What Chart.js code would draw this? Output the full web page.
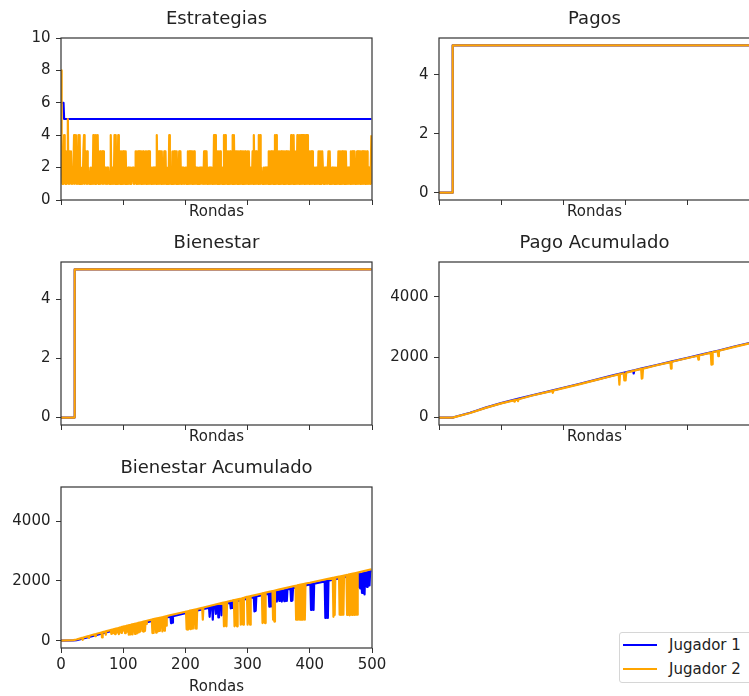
<!DOCTYPE html>
<html>
<head>
<meta charset="utf-8">
<script src="https://cdn.jsdelivr.net/npm/chart.js@4.4.1/dist/chart.umd.min.js"></script>
<style>
  html, body { margin: 0; padding: 0; background: #fff; overflow: hidden; }
  body { width: 749px; height: 696px; position: relative; font-family: "DejaVu Sans", sans-serif; }
  canvas { position: absolute; }
  #leyenda { position: absolute; left: 619px; top: 632px; width: 150px; height: 49px;
             border: 1px solid #d6d6d6; border-radius: 3px; background: #fff; color: #222; font-size: 15px; }
  #leyenda .linea { position: absolute; left: 3px; width: 34px; height: 2px; }
  #leyenda .texto { position: absolute; left: 49px; line-height: 18px; white-space: nowrap; }
</style>
</head>
<body>
<canvas id="estrategias" width="391" height="212" style="left:1px;top:9px"></canvas>
<canvas id="pagos" width="391" height="212" style="left:379px;top:9px"></canvas>
<canvas id="bienestar" width="391" height="213" style="left:1px;top:233px"></canvas>
<canvas id="pagoAcum" width="391" height="213" style="left:379px;top:233px"></canvas>
<canvas id="bienestarAcum" width="391" height="238" style="left:1px;top:458px"></canvas>
<div id="leyenda">
  <div class="linea" style="top:11px;background:#0000ff"></div>
  <div class="texto" style="top:3px">Jugador 1</div>
  <div class="linea" style="top:35px;background:#ffa500"></div>
  <div class="texto" style="top:27px">Jugador 2</div>
</div>
<script>
// marcas de los ejes
const rondasTicks = [0, 100, 200, 300, 400, 500];
const estrategiaTicks = [0, 2, 4, 6, 8, 10];
const pagoTicks = [0, 2, 4];
const acumTicks = [0, 2000, 4000];

// estrategia elegida en cada ronda: [valor, rondas seguidas]
const estrategiaJ1 = [[6, 5], [5, 495]];
// jugador 2, un dígito por ronda (bloques de 10 rondas)
const estrategiaJ2 = [
  "8413142131", "2513123121", "2412413141", "4121213412", "3131221121",
  "2141214124", "1313123131", "2211212211", "4121214141", "2141313131",
  "3131312121", "2121122112", "3131313131", "3131213131", "3131212121",
  "2121413131", "3131213131", "2121413121", "3131313121", "3131221211",
  "2121313131", "3131312121", "2112212211", "3131312121", "2121214141",
  "3131313121", "2141413131", "3131214141", "3131313131", "3131313121",
  "3131212131", "4131312141", "4122112121", "2121313131", "3131414131",
  "3131313131", "3131313131", "4131413131", "4131414141", "4141414131",
  "3131312121", "2121313131", "3311221211", "3131212121", "2121213131",
  "3131313131", "2121213131", "3131213131", "3131313131", "3131212124"
];

// pagos y bienestar por ronda: [valor, rondas seguidas]
const pagoJ1 = [[0, 22], [5, 478]];
const pagoJ2 = [[0, 22], [5, 478]];
const bienestarJ1 = [[0, 22], [5, 478]];
const bienestarJ2 = [[0, 22], [5, 478]];

// acumulados: [ronda, valor]
const pagoAcumJ1 = [
  [0,0],[22,0],[25,20],[50,160],[60,225],[75,330],[100,480],[125,610],[150,740],[175,860],
  [200,985],[225,1110],[250,1240],[275,1370],[300,1500],[312,1555],[313,1460],[314,1565],
  [325,1620],[350,1740],[375,1860],[400,1980],[425,2100],[450,2220],[475,2350],[499,2465]
];
const pagoAcumJ2 = [
  [0,0],[22,0],[25,15],[50,150],[75,320],[100,470],[120,570],[121,530],[122,577],[126,598],
  [127,545],[128,605],[150,730],[175,850],[182,885],[183,820],[184,895],[200,975],[225,1100],
  [250,1230],[275,1360],[289,1430],[290,1090],[291,1440],[297,1465],[298,1230],[300,1230],
  [301,1485],[325,1610],[326,1290],[327,1300],[328,1620],[350,1730],[372,1835],[373,1620],
  [374,1845],[400,1970],[416,2045],[417,1920],[418,2055],[437,2150],[438,1750],[439,1760],
  [440,2165],[448,2200],[449,2030],[450,2210],[475,2340],[499,2455]
];
const bienestarAcumJ1 = [
  [0,0],[20,10],[25,20],[50,150],[75,290],[100,420],[125,550],[128,565],[129,420],[130,575],
  [150,680],[175,800],[176,805],[177,590],[178,814],[179,600],[180,824],[200,920],[225,1040],
  [238,1105],[239,800],[240,1115],[243,1130],[244,700],[245,1140],[248,1155],[249,900],
  [250,1165],[252,1175],[253,780],[254,1185],[257,1200],[258,850],[259,1208],
  [272,1271],[273,1085],[274,1280],[275,1100],[276,1290],
  [300,1410],[310,1458],[311,980],[312,1468],[313,1000],[314,1478],[325,1530],[334,1573],
  [335,1140],[336,1583],[337,1200],[338,1592],[339,1150],[340,1602],[346,1631],[347,1310],
  [348,1640],[349,1400],[350,1650],[351,1330],[352,1660],[353,1450],[354,1669],[355,1310],
  [356,1679],[357,1380],[358,1688],[359,1320],[360,1698],[361,1420],[362,1708],[363,1330],
  [364,1717],[369,1741],[370,1330],[371,1751],[372,1350],[373,1760],[375,1770],[400,1880],
  [401,1884],[402,1030],[403,1893],[404,1050],[405,1902],[406,1030],[407,1911],[424,1986],
  [425,760],[426,1994],[427,780],[428,2003],[429,760],[430,2012],[450,2100],[475,2210],
  [478,2225],[479,1800],[480,2235],[481,1750],[482,2245],[484,1600],[485,2260],[486,1800],
  [487,2270],[488,1550],[489,2280],[490,1850],[491,2290],[492,1800],[493,2300],[494,1900],
  [495,2310],[496,1850],[497,2320],[499,2330]
];
const bienestarAcumJ2 = [
  [0,0],[20,20],[25,40],[34,94],[35,30],[36,106],[44,154],[45,90],[46,166],[50,190],
  [54,212],[55,150],[56,224],[65,274],[66,110],[67,285],[71,308],[72,200],[73,319],[75,330],
  [80,358],[81,230],[82,369],[83,240],[84,380],[85,260],[86,392],[87,220],[88,403],[89,290],
  [90,414],[91,280],[92,425],[93,220],[94,436],[95,300],[96,448],[97,260],[98,459],[99,320],
  [100,470],[102,480],[103,250],[104,491],[105,300],[106,501],[107,420],[108,512],[109,200],
  [110,522],[111,210],[112,532],[113,380],[114,543],[115,210],[116,553],[117,450],[118,564],
  [119,230],[120,574],[121,240],[122,584],[123,500],[124,595],[125,280],[126,605],[127,300],
  [128,616],[129,520],[130,626],[131,320],[132,636],[133,300],[134,647],[135,330],[136,657],
  [137,560],[138,668],[146,709],[147,255],[148,720],[149,260],[150,730],[151,400],[152,740],
  [153,270],[154,749],[155,310],[156,754],[157,320],[158,764],[159,330],[160,774],[161,600],
  [162,783],[163,310],[164,793],[165,350],[166,802],[167,330],[168,812],[169,500],[170,822],
  [175,850],[200,970],[201,975],[202,380],[203,984],[204,370],[205,994],[206,400],[207,1004],
  [208,390],[209,1013],[210,600],[211,1023],[212,400],[213,1032],[214,800],[215,1042],
  [216,410],[217,1052],[218,400],[219,1061],[227,1100],[228,700],[229,1110],[250,1220],
  [261,1273],[262,480],[263,1282],[264,500],[265,1292],[266,480],[267,1302],[275,1340],
  [278,1356],[279,480],[280,1366],[281,520],[282,1376],[283,480],[284,1387],[288,1402],
  [289,535],[290,1413],[291,560],[292,1423],[293,535],[294,1434],[299,1465],[300,535],
  [301,1475],[302,600],[303,1484],[304,535],[305,1494],[323,1580],[324,590],[325,1590],
  [326,620],[327,1600],[328,590],[329,1609],[340,1662],[341,700],[342,1672],[343,640],
  [344,1681],[350,1710],[375,1830],[377,1839],[378,700],[379,1848],[380,700],[381,1858],
  [382,720],[383,1867],[384,700],[385,1877],[386,700],[387,1886],[388,700],[389,1896],
  [390,720],[391,1905],[392,700],[393,1914],[400,1940],[437,2107],[438,800],[439,2116],
  [440,860],[441,2120],[447,2147],[448,870],[449,2156],[450,860],[451,2164],[452,870],
  [453,2173],[454,870],[455,2182],[459,2200],[460,860],[461,2208],[462,870],[463,2217],
  [464,850],[465,2226],[466,870],[467,2235],[468,860],[469,2244],[470,870],[471,2252],
  [472,860],[473,2261],[474,870],[475,2270],[476,870],[477,2280],[499,2390]
];

const AZUL = '#0000ff';
const NARANJA = '#ffa500';
const TEXTO = '#222222';
const EJE = '#333333';

Chart.defaults.font.family = '"DejaVu Sans", sans-serif';
Chart.defaults.color = TEXTO;

// de tramos [valor, n] o de dígitos a puntos {x: ronda, y: valor}
const deTramos = tramos => tramos.flatMap(([v, n]) => Array(n).fill(v)).map((v, i) => ({ x: i, y: v }));
const deDigitos = bloques => bloques.join('').split('').map((d, i) => ({ x: i, y: Number(d) }));
const dePares = pares => pares.map(([x, y]) => ({ x, y }));

// recuadro completo del área de trazado
const marco = {
  id: 'marco',
  afterDraw(chart) {
    const { ctx, chartArea: a } = chart;
    ctx.save();
    ctx.strokeStyle = EJE;
    ctx.lineWidth = 1.2;
    ctx.strokeRect(a.left, a.top, a.right - a.left, a.bottom - a.top);
    ctx.restore();
  }
};

function serie(label, puntos, color, orden) {
  return {
    label, data: puntos, borderColor: color, backgroundColor: color,
    borderWidth: 2.2, pointRadius: 0, tension: 0, fill: false,
    borderJoinStyle: 'round', order: orden
  };
}

function panel(id, titulo, j1, j2, yMin, yMax, yTicks, etiquetasX, altoX) {
  new Chart(document.getElementById(id), {
    type: 'line',
    data: {
      datasets: [
        serie('Jugador 1', j1, AZUL, 2),
        serie('Jugador 2', j2, NARANJA, 1)
      ]
    },
    options: {
      responsive: false,
      animation: false,
      events: [],
      normalized: true,
      layout: { padding: { left: 0, right: 20, top: 0, bottom: 0 } },
      plugins: {
        legend: { display: false },
        tooltip: { enabled: false },
        title: {
          display: true, text: titulo, fullSize: false, color: TEXTO,
          font: { size: 18, weight: 'normal' }, padding: { top: 0, bottom: 7.4 }
        }
      },
      scales: {
        x: {
          type: 'linear', min: 0, max: 500,
          afterBuildTicks: s => { s.ticks = rondasTicks.map(v => ({ value: v })); },
          afterFit: s => { s.height = altoX; },
          grid: { drawOnChartArea: false, drawTicks: true, tickLength: 5, color: EJE, lineWidth: 1 },
          border: { display: false },
          ticks: { display: etiquetasX, color: TEXTO, font: { size: 15 }, padding: 3, maxRotation: 0,
                   callback: v => String(v) },
          title: { display: true, text: 'Rondas', color: TEXTO, font: { size: 15 }, padding: 0 }
        },
        y: {
          min: yMin, max: yMax,
          afterBuildTicks: s => { s.ticks = yTicks.map(v => ({ value: v })); },
          afterFit: s => { s.width = 60; },
          grid: { drawOnChartArea: false, drawTicks: true, tickLength: 5, color: EJE, lineWidth: 1 },
          border: { display: false },
          ticks: { color: TEXTO, font: { size: 15 }, padding: 5.5, callback: v => String(v) }
        }
      }
    },
    plugins: [marco]
  });
}

panel('estrategias', 'Estrategias', deTramos(estrategiaJ1), deDigitos(estrategiaJ2),
      0, 10, estrategiaTicks, false, 21);
panel('pagos', 'Pagos', deTramos(pagoJ1), deTramos(pagoJ2),
      -0.25, 5.25, pagoTicks, false, 21);
panel('bienestar', 'Bienestar', deTramos(bienestarJ1), deTramos(bienestarJ2),
      -0.25, 5.25, pagoTicks, false, 21);
panel('pagoAcum', 'Pago Acumulado', dePares(pagoAcumJ1), dePares(pagoAcumJ2),
      -245, 5145, acumTicks, false, 21);
panel('bienestarAcum', 'Bienestar Acumulado', dePares(bienestarAcumJ1), dePares(bienestarAcumJ2),
      -245, 5145, acumTicks, true, 48);
</script>
</body>
</html>
